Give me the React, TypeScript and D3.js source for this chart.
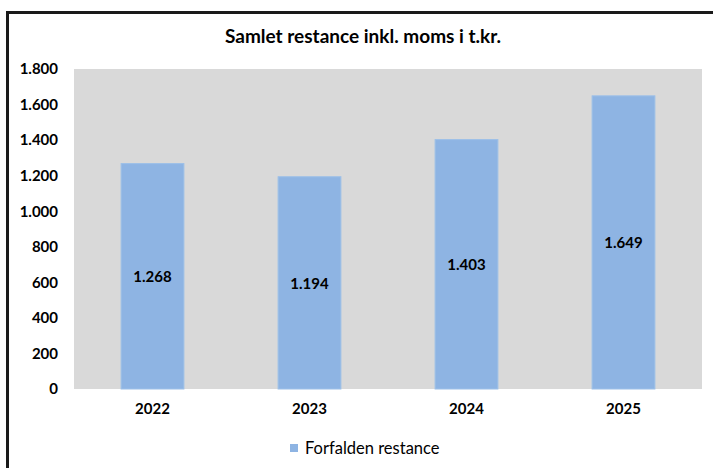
import React, { useRef, useEffect } from 'react'
import * as d3 from 'd3'

const years = ['2022', '2023', '2024', '2025']
const restance = [1268, 1194, 1403, 1649]
const yTicks = [0, 200, 400, 600, 800, 1000, 1200, 1400, 1600, 1800]
const seriesName = 'Forfalden restance'
const title = 'Samlet restance inkl. moms i t.kr.'

const W = 713
const H = 468
const font = 'Lato, "Open Sans", sans-serif'

const Chart: React.FC = () => {
  const ref = useRef<SVGSVGElement>(null)

  useEffect(() => {
    const root = d3.select(ref.current)
    root.selectAll('*').remove()

    const dk = d3.formatLocale({ decimal: ',', thousands: '.', grouping: [3], currency: ['', ' kr.'] })
    const fmt = dk.format(',d')

    const plot = { left: 74, top: 69, right: 702, bottom: 389 }

    const x = d3
      .scaleBand<string>()
      .domain(years)
      .range([plot.left, plot.right])
      .paddingInner(0.6)
      .paddingOuter(0.3)

    const y = d3.scaleLinear().domain([0, 1800]).range([plot.bottom, plot.top])

    // outer frame (only left + top visible in the crop)
    root
      .append('rect')
      .attr('x', 7.5)
      .attr('y', 12.5)
      .attr('width', W + 20)
      .attr('height', H + 20)
      .attr('fill', '#fff')
      .attr('stroke', '#1a1a1a')
      .attr('stroke-width', 3)

    root
      .append('text')
      .attr('x', 363)
      .attr('y', 43)
      .attr('text-anchor', 'middle')
      .attr('font-family', font)
      .attr('font-weight', 700)
      .attr('font-size', 19)
      .attr('fill', '#000')
      .text(title)

    root
      .append('rect')
      .attr('x', plot.left)
      .attr('y', plot.top)
      .attr('width', plot.right - plot.left)
      .attr('height', plot.bottom - plot.top)
      .attr('fill', '#d9d9d9')

    const yAxis = root
      .append('g')
      .attr('transform', `translate(${plot.left},0)`)
      .call(d3.axisLeft(y).tickValues(yTicks).tickFormat((d) => fmt(d as number)).tickSize(0).tickPadding(16))
    yAxis.select('.domain').remove()
    yAxis
      .selectAll('text')
      .attr('font-family', font)
      .attr('font-weight', 700)
      .attr('font-size', 15)
      .attr('fill', '#000')

    const xAxis = root
      .append('g')
      .attr('transform', `translate(0,${plot.bottom})`)
      .call(d3.axisBottom(x).tickSize(0).tickPadding(14))
    xAxis.select('.domain').remove()
    xAxis
      .selectAll('text')
      .attr('font-family', font)
      .attr('font-weight', 700)
      .attr('font-size', 15)
      .attr('fill', '#000')

    const data = years.map((yr, i) => ({ yr, v: restance[i] }))

    root
      .append('g')
      .selectAll('rect')
      .data(data)
      .enter()
      .append('rect')
      .attr('x', (d) => x(d.yr)!)
      .attr('y', (d) => y(d.v))
      .attr('width', x.bandwidth())
      .attr('height', (d) => y(0) - y(d.v))
      .attr('fill', '#8eb4e3')
      .attr('stroke', '#9dc0e8')
      .attr('stroke-width', 1)

    root
      .append('g')
      .selectAll('text')
      .data(data)
      .enter()
      .append('text')
      .attr('x', (d) => x(d.yr)! + x.bandwidth() / 2)
      .attr('y', (d) => (y(d.v) + y(0)) / 2 + 6)
      .attr('text-anchor', 'middle')
      .attr('font-family', font)
      .attr('font-weight', 700)
      .attr('font-size', 15)
      .attr('fill', '#000')
      .text((d) => dk.format(',.0f')(d.v))

    const lg = root.append('g').attr('transform', 'translate(290,444)')
    lg.append('rect').attr('width', 8).attr('height', 8).attr('fill', '#8eb4e3')
    lg.append('text')
      .attr('x', 15)
      .attr('y', 10)
      .attr('font-family', font)
      .attr('font-size', 16.5)
      .attr('fill', '#000')
      .text(seriesName)
  }, [])

  return <svg ref={ref} width={W} height={H} style={{ position: 'absolute', left: 0, top: 0 }} />
}

export default function App() {
  return <Chart />
}
